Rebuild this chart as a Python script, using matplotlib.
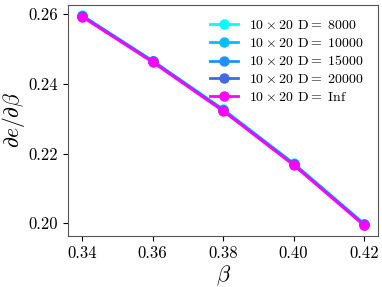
import numpy as np
import matplotlib
matplotlib.use("Agg")
import matplotlib.pyplot as plt

plt.rcParams['font.family'] = 'serif'
plt.rcParams['font.serif'] = ['cmr10']
plt.rcParams['mathtext.fontset'] = 'cm'
plt.rcParams['axes.formatter.use_mathtext'] = True

beta = [0.34, 0.36, 0.38, 0.40, 0.42]
labels = ['8000', '10000', '15000', '20000', 'Inf']
colors = ['#00ffff', '#00bfff', '#1e90ff', '#4169e1', '#ff00ff']
dedb = [
    [0.2596, 0.2466, 0.2327, 0.2172, 0.1999],
    [0.2595, 0.2465, 0.2326, 0.2171, 0.1998],
    [0.2595, 0.2465, 0.2325, 0.2170, 0.1997],
    [0.2594, 0.2464, 0.2324, 0.2169, 0.1996],
    [0.2592, 0.2462, 0.2322, 0.2167, 0.1994],
]

fig, ax = plt.subplots(figsize=(3.82, 2.87), dpi=100)
for lab, col, y in zip(labels, colors, dedb):
    ax.plot(beta, y, '-o', color=col, lw=2, ms=6.5,
            label=r'$10\times 20$ D$=$ ' + lab)

ax.set_xticks(beta)
ax.set_xticklabels(['0.34', '0.36', '0.38', '0.40', '0.42'])
ax.set_yticks([0.20, 0.22, 0.24, 0.26])
ax.set_yticklabels(['0.20', '0.22', '0.24', '0.26'])
ax.tick_params(labelsize=12)
ax.set_xlabel(r'$\beta$', fontsize=16, labelpad=2)
ax.set_ylabel(r'$\partial e/\partial\beta$', fontsize=15.5, labelpad=1)
for s in ax.spines.values():
    s.set_color('#555555')
ax.legend(frameon=False, fontsize=10, loc='upper right',
          labelspacing=0.35, borderaxespad=0.6)
fig.subplots_adjust(left=0.178, right=0.99, bottom=0.178, top=0.983)
fig.savefig('out.png')
